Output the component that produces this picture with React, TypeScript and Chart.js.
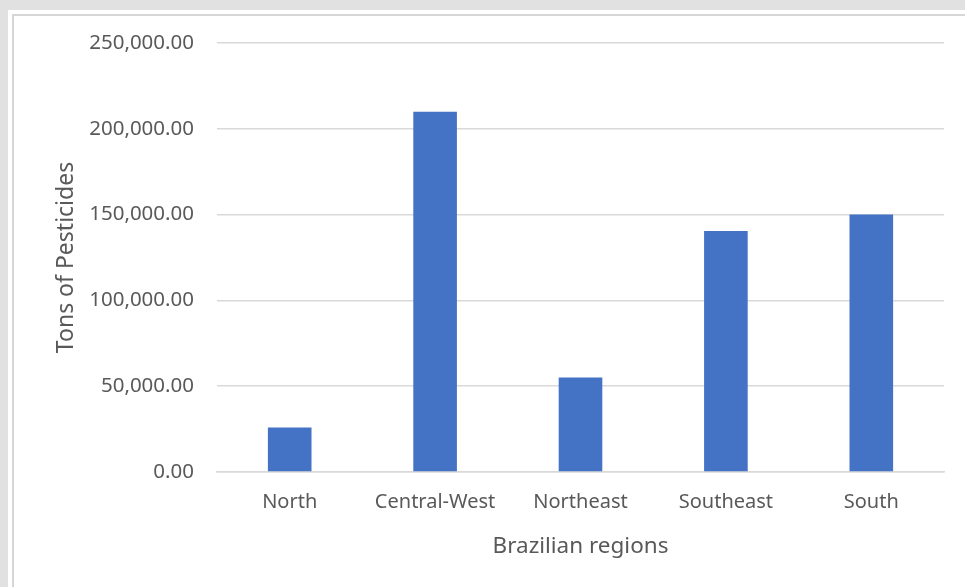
import React, { useEffect, useRef } from "react";
import { Chart, registerables } from "chart.js";

Chart.register(...registerables);

const categories = ["North", "Central-West", "Northeast", "Southeast", "South"];
const tons = [26000, 210000, 55000, 140500, 150000];
const yMax = 250000;
const yStep = 50000;
const xTitle = "Brazilian regions";
const yTitle = "Tons of Pesticides";

const FONT = "'Noto Sans', 'Open Sans', sans-serif";
const TEXT = "#595959";

export default function App() {
  const ref = useRef<HTMLCanvasElement>(null);

  useEffect(() => {
    if (!ref.current) return;
    const chart = new Chart(ref.current, {
      type: "bar",
      data: {
        labels: categories,
        datasets: [
          {
            data: tons,
            backgroundColor: "#4472C4",
            borderWidth: 0,
            barPercentage: 0.3,
            categoryPercentage: 1,
          },
        ],
      },
      options: {
        responsive: false,
        animation: false,
        devicePixelRatio: 1,
        layout: { padding: { left: 40, top: 43, right: 21, bottom: 20 } },
        plugins: { legend: { display: false }, tooltip: { enabled: false } },
        scales: {
          x: {
            grid: { display: false, drawTicks: false },
            border: { color: "#d9d9d9", width: 1.5 },
            ticks: {
              color: TEXT,
              font: { family: FONT, size: 20 },
              padding: 18,
              maxRotation: 0,
            },
            title: {
              display: true,
              text: xTitle,
              color: TEXT,
              font: { family: FONT, size: 22.5 },
              padding: { top: 0, bottom: 7 },
            },
            afterFit: (axis: any) => {
              axis.height = 95;
            },
          },
          y: {
            min: 0,
            max: yMax,
            grid: { color: "#d9d9d9", lineWidth: 1.5, drawTicks: false },
            border: { display: false },
            ticks: {
              stepSize: yStep,
              color: TEXT,
              font: { family: FONT, size: 20.5 },
              padding: 23,
              callback: (v: any) =>
                Number(v).toLocaleString("en-US", {
                  minimumFractionDigits: 2,
                  maximumFractionDigits: 2,
                }),
            },
            title: {
              display: true,
              text: yTitle,
              color: TEXT,
              font: { family: FONT, size: 23 },
              padding: { top: 13, bottom: 0 },
            },
            afterFit: (axis: any) => {
              axis.width = 177;
            },
          },
        },
      },
    });
    return () => chart.destroy();
  }, []);

  return (
    <div
      style={{
        position: "absolute",
        left: 0,
        top: 0,
        width: 965,
        height: 587,
        background: "#e1e1e1",
        overflow: "hidden",
      }}
    >
      <div
        style={{
          position: "absolute",
          left: 8,
          top: 10,
          right: 0,
          bottom: 0,
          background: "#ffffff",
        }}
      />
      <div
        style={{
          position: "absolute",
          left: 12,
          top: 14,
          right: 0,
          bottom: 0,
          borderLeft: "2px solid #d6d6d6",
          borderTop: "2px solid #d6d6d6",
        }}
      />
      <canvas
        ref={ref}
        width={965}
        height={587}
        style={{ position: "absolute", left: 0, top: 0, width: 965, height: 587 }}
      />
    </div>
  );
}
